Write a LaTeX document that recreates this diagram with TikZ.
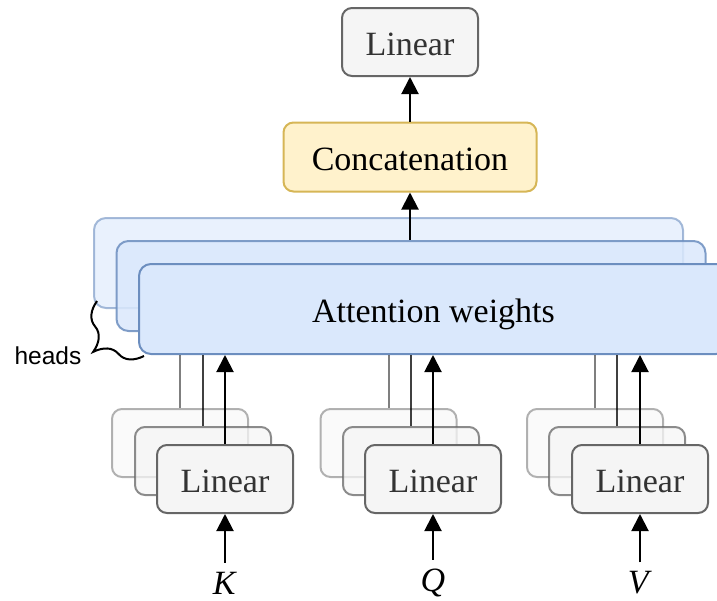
\documentclass[tikz,border=0pt]{standalone}
\usepackage{fontspec}
\setmainfont{Liberation Serif}
\newfontfamily\headsfont{Liberation Sans}
\usetikzlibrary{arrows.meta,decorations.pathreplacing}
\definecolor{linF}{HTML}{F5F5F5}
\definecolor{linS}{HTML}{666666}
\definecolor{linT}{HTML}{333333}
\definecolor{catF}{HTML}{FFF2CC}
\definecolor{catS}{HTML}{D6B656}
\definecolor{attF}{HTML}{DAE8FC}
\definecolor{attS}{HTML}{6C8EBF}
\tikzset{
  bigtext/.style={font=\fontsize{34}{40}\selectfont},
  boxtext/.style={bigtext, text height=26pt, text depth=0pt},
  lin/.style={boxtext, draw=linS, fill=linF, text=linT, line width=2pt, rounded corners=10pt,
    minimum width=136pt, minimum height=68pt, inner sep=0pt},
  cat/.style={boxtext, draw=catS, fill=catF, text=black, line width=2pt, rounded corners=10pt,
    minimum width=253pt, minimum height=69pt, inner sep=0pt},
  att/.style={boxtext, draw=attS, fill=attF, text=black, line width=2pt, rounded corners=12pt,
    minimum width=589pt, minimum height=90pt, inner sep=0pt},
  arr/.style={line width=2pt, -{Triangle[length=17pt,width=17pt]}},
  feed/.style={line width=2pt},
  inlab/.style={bigtext, inner xsep=2pt, inner ysep=9pt},
}
\begin{document}
\begin{tikzpicture}[x=1pt,y=-1pt]
\clip (0,0) rectangle (717,600);
% attention layers
\node[att, opacity=0.6] (ab) at (388.5,263) {};
\node[att, opacity=0.85] (am) at (411,286) {};
\node[att] (af) at (433.5,309) {Attention weights};
% top
\node[cat] (cc) at (410,157) {Concatenation};
\node[lin] (top) at (410,42) {Linear};
\draw[arr] (cc.north) -- (top.south);
\draw[arr] (am.north -| cc.south) -- (cc.south);
% K group
\node[lin, opacity=0.5] (kb) at (180,443) {};
\node[lin, opacity=0.75] (km) at (203,461) {};
\node[lin] (kf) at (225,479) {Linear};
% Q group
\node[lin, opacity=0.5] (qb) at (388.5,443) {};
\node[lin, opacity=0.75] (qm) at (411,461) {};
\node[lin] (qf) at (433,479) {Linear};
% V group
\node[lin, opacity=0.5] (vb) at (595,443) {};
\node[lin, opacity=0.75] (vm) at (617,461) {};
\node[lin] (vf) at (640,479) {Linear};
% feeds
\foreach \g in {k,q,v}{
  \draw[feed, black, opacity=0.5] (\g b.north) -- (\g b.north |- af.south);
  \draw[feed, black, opacity=0.75] (\g m.north) -- (\g m.north |- af.south);
  \draw[arr] (\g f.north) -- (\g f.north |- af.south);
}
% inputs
\node[inlab] (kin) at (225,583) {\textit{K}};
\node[inlab] (qin) at (433,583) {\textit{Q}};
\node[inlab] (vin) at (640,583) {\textit{V}};
\draw[arr] (kin.north) -- (kf.south);
\draw[arr] (qin.north) -- (qf.south);
\draw[arr] (vin.north) -- (vf.south);
% heads brace
\coordinate (hb) at (97,301);
\coordinate (hf) at (144,356);
\draw[line width=2pt, decorate, decoration={brace, amplitude=36pt}] (hf) -- (hb);
\node[font=\headsfont\fontsize{24.5}{30}\selectfont] (heads) at (48,356) {heads};
\end{tikzpicture}
\end{document}
